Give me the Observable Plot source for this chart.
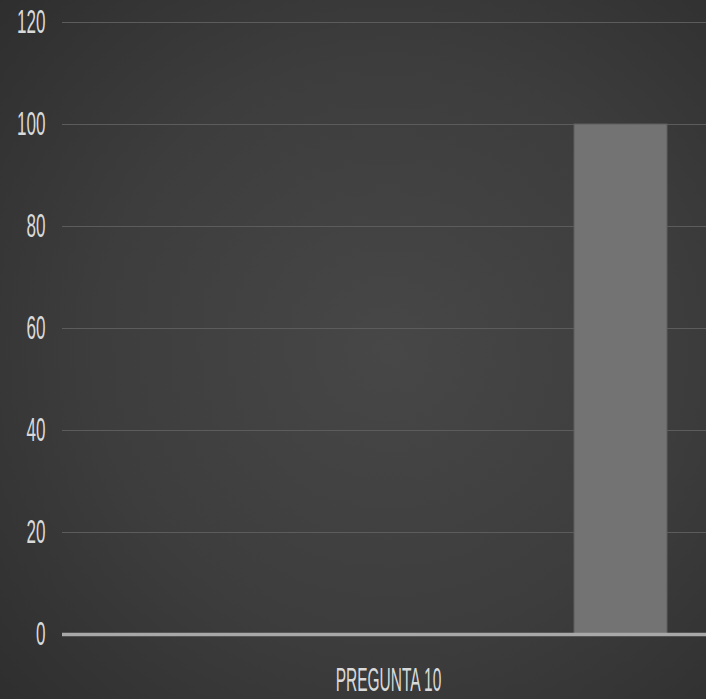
<!DOCTYPE html>
<html>
<head>
<meta charset="utf-8">
<script src="https://cdn.jsdelivr.net/npm/d3@7"></script>
<script src="https://cdn.jsdelivr.net/npm/@observablehq/plot@0.6"></script>
<style>
  html, body { margin: 0; padding: 0; }
  body {
    width: 706px; height: 699px; overflow: hidden;
    background: radial-gradient(ellipse 75% 75% at 55% 50%, #474747 0%, #3d3d3d 55%, #2e2e2e 100%);
  }
  #chart { width: 706px; height: 699px; overflow: hidden; }
  #chart svg { display: block; max-width: none !important; }
</style>
</head>
<body>
<div id="chart"></div>
<script>
const categories = ["PREGUNTA 10"];
const series = ["Serie 1", "Serie 2", "Serie 3", "Serie 4", "Serie 5", "Serie 6"];
const values = [0, 0, 0, 0, 0, 100];
const yTicks = [0, 20, 40, 60, 80, 100, 120];

const data = series.map((s, i) => ({ category: categories[0], series: s, value: values[i] }));

const chart = Plot.plot({
  width: 714,
  height: 699,
  marginLeft: 62,
  marginRight: 0,
  marginTop: 22,
  marginBottom: 65,
  style: {
    background: "transparent",
    color: "#d9d9d9",
    fontFamily: "'Liberation Sans', Arial, sans-serif",
    fontSize: "33px",
    maxWidth: "none"
  },
  fx: { domain: categories, padding: 0, label: null },
  x: { domain: series, paddingInner: 0, paddingOuter: 0.5, axis: null },
  y: { domain: [0, 120], label: null },
  marks: [
    Plot.gridY(yTicks, { stroke: "#5c5c5c", strokeOpacity: 1, strokeWidth: 1 }),
    Plot.barY(data, { fx: "category", x: "series", y: "value", fill: "#737373", stroke: "#5f5f5f", strokeWidth: 1, inset: 0 }),
    Plot.ruleY([0], { stroke: "#a8a8a8", strokeWidth: 3.5 }),
    Plot.axisY(yTicks, { tickSize: 0, tickPadding: 17, label: null, fill: "#d9d9d9" }),
    Plot.axisFx({ anchor: "bottom", tickSize: 0, tickPadding: 33, label: null, fill: "#d9d9d9" })
  ]
});

document.getElementById("chart").appendChild(chart);

// condense tick labels horizontally to match the narrow typeface of the reference
function condense(selector, perChar) {
  d3.select(chart).selectAll(selector).each(function () {
    const n = this.textContent.length;
    d3.select(this)
      .attr("textLength", n * perChar)
      .attr("lengthAdjust", "spacingAndGlyphs");
  });
}
condense("[aria-label='y-axis tick label'] text", 9.5);
condense("[aria-label='fx-axis tick label'] text", 9.6);
</script>
</body>
</html>
